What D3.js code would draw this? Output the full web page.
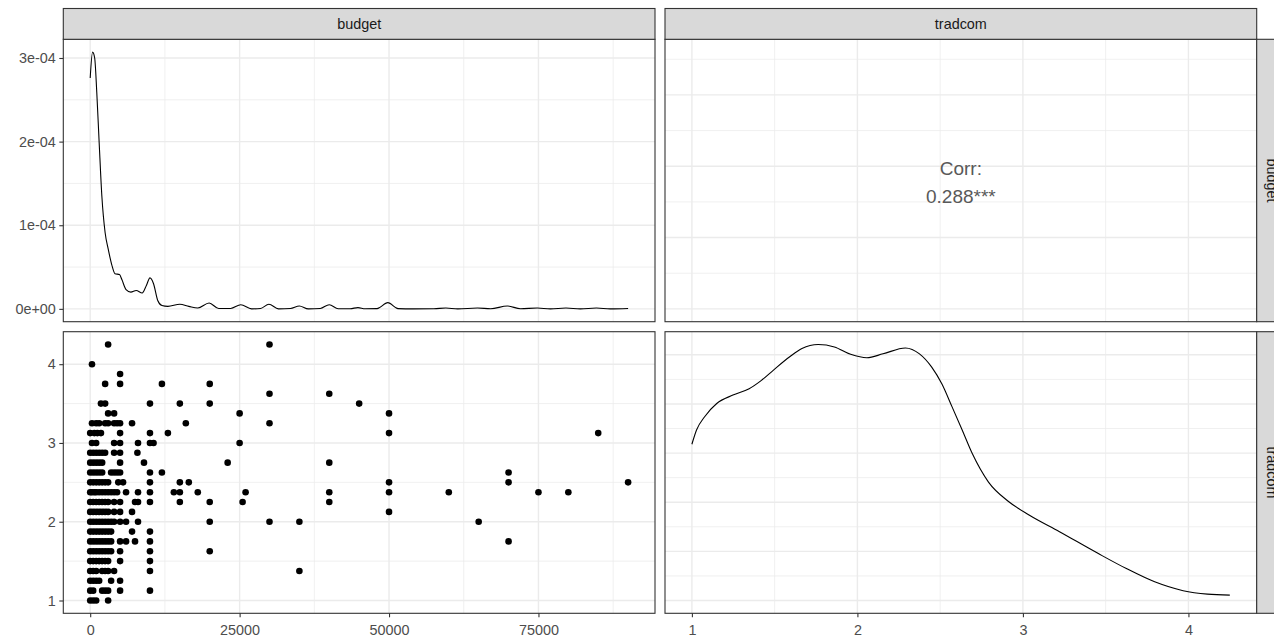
<!DOCTYPE html>
<html>
<head>
<meta charset="utf-8">
<script src="https://cdn.jsdelivr.net/npm/d3@7"></script>
<style>
  body { margin: 0; background: #fff; }
  svg text { font-family: "Liberation Sans", Arial, sans-serif; }
</style>
</head>
<body>
<div id="chart"></div>
<script>
var svgWidth = 1274;
var svgHeight = 637;

// variables and tick labels
var varNames = ["budget", "tradcom"];
var budgetRange = [0, 90000];
var tradRange = [1, 4.25];
var budgetTicks = [0, 25000, 50000, 75000];
var budgetTickLabels = ["0", "25000", "50000", "75000"];
var tradTicks = [1, 2, 3, 4];
var tradTickLabels = ["1", "2", "3", "4"];
var densTicks = [0, 1e-4, 2e-4, 3e-4];
var densTickLabels = ["0e+00", "1e-04", "2e-04", "3e-04"];
var tradDensTicks = [0, 0.1, 0.2, 0.3, 0.4, 0.5];
var corrLines = ["Corr:", "0.288***"];

// density of budget (diagonal, top-left)
var budgetDensX = [0, 400, 750, 1100, 1500, 1950, 2500, 3000, 3600, 4150,
  4900, 5300, 6000, 6800, 7700, 8700, 9400, 10000, 10600, 11300,
  12000, 13000, 15000, 16500, 18000, 19900, 21500, 23500, 25200, 27000,
  28500, 29900, 31500, 33500, 35000, 36500, 38500, 40000, 41500, 43500,
  44800, 46000, 48000, 49800, 51500, 54000, 57500, 59500, 61500, 64800,
  67000, 69800, 72000, 74800, 77000, 79600, 82000, 84700, 87000, 90000];
var budgetDensY = [2.76e-4, 3.07e-4, 3.00e-4, 2.59e-4, 1.99e-4, 1.35e-4, 0.91e-4, 0.72e-4, 0.53e-4, 0.42e-4,
  0.41e-4, 0.35e-4, 0.23e-4, 0.20e-4, 0.22e-4, 0.19e-4, 0.28e-4, 0.37e-4, 0.30e-4, 0.10e-4,
  0.04e-4, 0.03e-4, 0.055e-4, 0.03e-4, 0.01e-4, 0.07e-4, 0.005e-4, 0.005e-4, 0.05e-4, 0,
  0.005e-4, 0.055e-4, 0, 0.005e-4, 0.035e-4, 0, 0.005e-4, 0.05e-4, 0.002e-4, 0.002e-4,
  0.015e-4, 0.001e-4, 0.003e-4, 0.075e-4, 0.003e-4, 0, 0.001e-4, 0.01e-4, 0, 0.01e-4,
  0.001e-4, 0.035e-4, 0.001e-4, 0.01e-4, 0, 0.01e-4, 0, 0.01e-4, 0, 0.005e-4];

// density of tradcom (diagonal, bottom-right)
var tradDensX = [1.0, 1.028, 1.077, 1.15, 1.248, 1.346, 1.42, 1.493, 1.591, 1.665,
  1.763, 1.861, 1.959, 2.057, 2.155, 2.29, 2.375, 2.449, 2.51, 2.572,
  2.633, 2.694, 2.792, 2.915, 3.037, 3.221, 3.453, 3.625, 3.796, 3.968,
  4.115, 4.25];
var tradDensY = [0.318, 0.347, 0.374, 0.401, 0.418, 0.431, 0.448, 0.469, 0.496, 0.513,
  0.521, 0.516, 0.501, 0.494, 0.502, 0.514, 0.502, 0.475, 0.441, 0.394,
  0.347, 0.299, 0.241, 0.201, 0.174, 0.140, 0.096, 0.065, 0.038, 0.020,
  0.013, 0.011];

// scatter: tradcom level -> budgets at that level
var scatterRows = [
  [4.25, [3000, 30000]],
  [4.0, [300]],
  [3.875, [5000]],
  [3.75, [2500, 5000, 12000, 20000]],
  [3.625, [30000, 40000]],
  [3.5, [1800, 2500, 10000, 15000, 20000, 45000]],
  [3.375, [3000, 4000, 25000, 50000]],
  [3.25, [300, 1000, 1500, 2500, 3000, 4000, 4500, 5000, 7000, 16000, 30000]],
  [3.125, [0, 700, 1200, 1800, 5000, 10000, 13000, 50000, 85000]],
  [3.0, [300, 1000, 4000, 5000, 8000, 10000, 10600, 25000]],
  [2.875, [0, 500, 1000, 1500, 2000, 2500, 4000, 5000, 7900]],
  [2.75, [0, 500, 1000, 1500, 2000, 5000, 9000, 23000, 40000]],
  [2.625, [0, 500, 1000, 1500, 2000, 3500, 4000, 4500, 5000, 10000, 12000, 70000]],
  [2.5, [0, 500, 1000, 1500, 2000, 2500, 3000, 4700, 5500, 10000, 15000, 16500, 50000, 70000, 90000]],
  [2.375, [0, 300, 700, 1000, 1500, 2000, 2500, 3000, 3500, 4000, 4500, 6000, 8000, 10000, 14000, 15000, 18000, 26000, 40000, 50000, 60000, 75000, 80000]],
  [2.25, [0, 500, 1000, 1500, 2000, 2500, 3000, 4000, 5000, 7500, 8000, 10000, 15000, 20000, 25500, 40000]],
  [2.125, [0, 500, 1000, 1500, 2000, 2500, 3000, 4000, 5000, 7000, 50000]],
  [2.0, [0, 500, 1000, 1500, 2000, 2500, 3000, 3500, 4000, 5000, 6000, 8000, 20000, 30000, 35000, 65000]],
  [1.875, [0, 500, 1000, 1500, 2000, 2500, 3000, 3500, 7000, 10000]],
  [1.75, [0, 500, 1000, 1500, 2000, 2500, 3000, 3500, 5000, 6000, 7500, 10000, 70000]],
  [1.625, [0, 500, 1000, 1500, 2000, 2500, 3000, 3500, 5000, 10000, 20000]],
  [1.5, [0, 500, 1000, 1500, 2000, 2500, 3000, 5000, 10000]],
  [1.375, [0, 500, 1000, 2000, 2500, 3000, 4000, 10000, 35000]],
  [1.25, [0, 500, 1000, 1500, 3500, 5000]],
  [1.125, [0, 500, 2000, 2500, 3000, 5000, 10000]],
  [1.0, [0, 500, 1000, 3000]]
];

// panel layout
var cols = [{ x0: 63.3, x1: 655 }, { x0: 665, x1: 1256.7 }];
var rows = [{ y0: 39.3, y1: 321.7 }, { y0: 331.7, y1: 613.3 }];
var stripSize = 30.8;
var gridCol = "#EBEBEB";

function expand(d) {
  var r = d[1] - d[0];
  return [d[0] - 0.05 * r, d[1] + 0.05 * r];
}
function minorBreaks(majors, dom) {
  var step = majors[1] - majors[0];
  var out = [];
  for (var i = -1; i < majors.length; i++) {
    var v = majors[0] + (i + 0.5) * step;
    if (v >= dom[0] && v <= dom[1]) out.push(v);
  }
  return out;
}

var xBudget = d3.scaleLinear().domain(expand(budgetRange)).range([cols[0].x0, cols[0].x1]);
var xTrad = d3.scaleLinear().domain(expand(tradRange)).range([cols[1].x0, cols[1].x1]);
var yDensB = d3.scaleLinear().domain(expand([0, d3.max(budgetDensY)])).range([rows[0].y1, rows[0].y0]);
var yBudget = d3.scaleLinear().domain(expand(budgetRange)).range([rows[0].y1, rows[0].y0]);
var yTrad = d3.scaleLinear().domain(expand(tradRange)).range([rows[1].y1, rows[1].y0]);
var yDensT = d3.scaleLinear().domain(expand([0, d3.max(tradDensY)])).range([rows[1].y1, rows[1].y0]);

var svg = d3.select("#chart").append("svg")
  .attr("width", svgWidth)
  .attr("height", svgHeight);

svg.append("rect").attr("width", svgWidth).attr("height", svgHeight).attr("fill", "#fff");

// panels: [col, row, xScale, yScale, xMajors, yMajors]
var panels = [
  { c: 0, r: 0, x: xBudget, y: yDensB, xm: budgetTicks, ym: densTicks },
  { c: 1, r: 0, x: xTrad, y: yBudget, xm: tradTicks, ym: budgetTicks },
  { c: 0, r: 1, x: xBudget, y: yTrad, xm: budgetTicks, ym: tradTicks },
  { c: 1, r: 1, x: xTrad, y: yDensT, xm: tradTicks, ym: tradDensTicks }
];

panels.forEach(function(p, i) {
  var col = cols[p.c], row = rows[p.r];
  var g = svg.append("g");
  g.append("clipPath").attr("id", "clip" + i)
    .append("rect")
    .attr("x", col.x0).attr("y", row.y0)
    .attr("width", col.x1 - col.x0).attr("height", row.y1 - row.y0);
  g.append("rect")
    .attr("x", col.x0).attr("y", row.y0)
    .attr("width", col.x1 - col.x0).attr("height", row.y1 - row.y0)
    .attr("fill", "#fff");

  var xMinor = minorBreaks(p.xm, p.x.domain());
  var yMinor = minorBreaks(p.ym, p.y.domain());

  g.selectAll(".vminor").data(xMinor).enter().append("line")
    .attr("x1", d => p.x(d)).attr("x2", d => p.x(d))
    .attr("y1", row.y0).attr("y2", row.y1)
    .attr("stroke", gridCol).attr("stroke-width", 0.75);
  g.selectAll(".hminor").data(yMinor).enter().append("line")
    .attr("y1", d => p.y(d)).attr("y2", d => p.y(d))
    .attr("x1", col.x0).attr("x2", col.x1)
    .attr("stroke", gridCol).attr("stroke-width", 0.75);
  g.selectAll(".vmajor").data(p.xm).enter().append("line")
    .attr("x1", d => p.x(d)).attr("x2", d => p.x(d))
    .attr("y1", row.y0).attr("y2", row.y1)
    .attr("stroke", gridCol).attr("stroke-width", 1.4);
  g.selectAll(".hmajor").data(p.ym).enter().append("line")
    .attr("y1", d => p.y(d)).attr("y2", d => p.y(d))
    .attr("x1", col.x0).attr("x2", col.x1)
    .attr("stroke", gridCol).attr("stroke-width", 1.4);

  p.g = g;
});

// top-left: budget density
var lineB = d3.line()
  .x((d, i) => xBudget(budgetDensX[i]))
  .y(d => yDensB(d))
  .curve(d3.curveMonotoneX);
panels[0].g.append("path")
  .datum(budgetDensY)
  .attr("clip-path", "url(#clip0)")
  .attr("d", lineB)
  .attr("fill", "none")
  .attr("stroke", "#000")
  .attr("stroke-width", 1.1);

// top-right: correlation text
corrLines.forEach(function(t, i) {
  panels[1].g.append("text")
    .attr("x", (cols[1].x0 + cols[1].x1) / 2)
    .attr("y", 175 + i * 28.3)
    .attr("text-anchor", "middle")
    .attr("font-size", "19px")
    .attr("fill", "#595959")
    .text(t);
});

// bottom-left: scatter
var points = [];
scatterRows.forEach(function(r) {
  r[1].forEach(function(b) { points.push({ budget: b, tradcom: r[0] }); });
});
panels[2].g.append("g").attr("clip-path", "url(#clip2)")
  .selectAll("circle")
  .data(points)
  .enter()
  .append("circle")
  .attr("cx", d => xBudget(d.budget))
  .attr("cy", d => yTrad(d.tradcom))
  .attr("r", 3.3)
  .attr("fill", "#000");

// bottom-right: tradcom density
var lineT = d3.line()
  .x((d, i) => xTrad(tradDensX[i]))
  .y(d => yDensT(d))
  .curve(d3.curveMonotoneX);
panels[3].g.append("path")
  .datum(tradDensY)
  .attr("clip-path", "url(#clip3)")
  .attr("d", lineT)
  .attr("fill", "none")
  .attr("stroke", "#000")
  .attr("stroke-width", 1.1);

// panel borders
panels.forEach(function(p) {
  var col = cols[p.c], row = rows[p.r];
  svg.append("rect")
    .attr("x", col.x0).attr("y", row.y0)
    .attr("width", col.x1 - col.x0).attr("height", row.y1 - row.y0)
    .attr("fill", "none").attr("stroke", "#333").attr("stroke-width", 1.1);
});

// strips on top
cols.forEach(function(col, i) {
  svg.append("rect")
    .attr("x", col.x0).attr("y", rows[0].y0 - stripSize)
    .attr("width", col.x1 - col.x0).attr("height", stripSize)
    .attr("fill", "#D9D9D9").attr("stroke", "#333").attr("stroke-width", 1.1);
  svg.append("text")
    .attr("x", (col.x0 + col.x1) / 2)
    .attr("y", rows[0].y0 - stripSize / 2)
    .attr("text-anchor", "middle")
    .attr("dominant-baseline", "central")
    .attr("font-size", "14.4px")
    .attr("fill", "#1A1A1A")
    .text(varNames[i]);
});

// strips on the right
rows.forEach(function(row, i) {
  var sx = cols[1].x1;
  svg.append("rect")
    .attr("x", sx).attr("y", row.y0)
    .attr("width", stripSize).attr("height", row.y1 - row.y0)
    .attr("fill", "#D9D9D9").attr("stroke", "#333").attr("stroke-width", 1.1);
  svg.append("text")
    .attr("transform", `translate(${sx + stripSize / 2}, ${(row.y0 + row.y1) / 2}) rotate(90)`)
    .attr("text-anchor", "middle")
    .attr("dominant-baseline", "central")
    .attr("font-size", "14.4px")
    .attr("fill", "#1A1A1A")
    .text(varNames[i]);
});

// axes
function styleAxis(a) {
  a.select(".domain").remove();
  a.selectAll(".tick line").attr("stroke", "#333").attr("stroke-width", 1.1);
  a.selectAll(".tick text")
    .attr("fill", "#4D4D4D")
    .attr("font-size", "14.4px")
    .attr("font-family", "Liberation Sans, Arial, sans-serif");
}

svg.append("g")
  .attr("transform", `translate(${cols[0].x0}, 0)`)
  .call(d3.axisLeft(yDensB).tickValues(densTicks)
    .tickFormat((d, i) => densTickLabels[i]).tickSize(4).tickPadding(3.5).tickSizeOuter(0))
  .call(styleAxis);

svg.append("g")
  .attr("transform", `translate(${cols[0].x0}, 0)`)
  .call(d3.axisLeft(yTrad).tickValues(tradTicks)
    .tickFormat((d, i) => tradTickLabels[i]).tickSize(4).tickPadding(3.5).tickSizeOuter(0))
  .call(styleAxis);

svg.append("g")
  .attr("transform", `translate(0, ${rows[1].y1})`)
  .call(d3.axisBottom(xBudget).tickValues(budgetTicks)
    .tickFormat((d, i) => budgetTickLabels[i]).tickSize(4).tickPadding(7).tickSizeOuter(0))
  .call(styleAxis);

svg.append("g")
  .attr("transform", `translate(0, ${rows[1].y1})`)
  .call(d3.axisBottom(xTrad).tickValues(tradTicks)
    .tickFormat((d, i) => tradTickLabels[i]).tickSize(4).tickPadding(7).tickSizeOuter(0))
  .call(styleAxis);
</script>
</body>
</html>
